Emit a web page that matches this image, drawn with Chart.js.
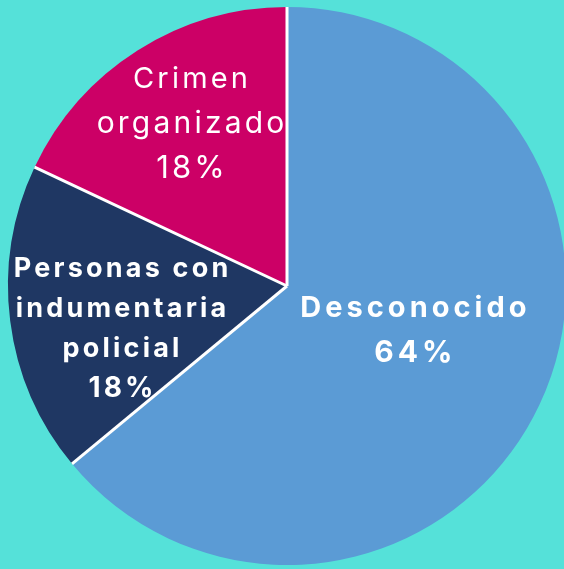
<!DOCTYPE html>
<html>
<head>
<meta charset="utf-8">
<script src="https://cdn.jsdelivr.net/npm/chart.js@4/dist/chart.umd.min.js"></script>
<style>
  html, body { margin: 0; padding: 0; background: #55E1D9; overflow: hidden; width: 564px; height: 569px; }
  canvas { display: block; }
</style>
</head>
<body>
<canvas id="c" width="574" height="569"></canvas>
<script>
// ---- data ----
const categories = ['Desconocido', 'Personas con indumentaria policial', 'Crimen organizado'];
const values = [64, 18, 18];
const labelLines = [
  ['Desconocido'],
  ['Personas con', 'indumentaria', 'policial'],
  ['Crimen', 'organizado']
];
const sliceColors = ['#5B9BD5', '#1F3763', '#CC0066'];

// ---- label styling (placement relative to pie center, in units of radius) ----
const labelStyle = [
  { fx: 0.453, fy: 0.19, weight: '700', sizes: [29, 30], lh: 45, ls: 4 },
  { fx: -0.595, fy: 0.183, weight: '700', sizes: [27, 27, 27, 28], lh: 40, ls: 3.2 },
  { fx: -0.346, fy: -0.547, weight: '400', sizes: [29, 30, 31], lh: 45, ls: 3.2 }
];

const separatorPlugin = {
  id: 'separators',
  afterDatasetsDraw(chart) {
    const ctx = chart.ctx;
    const arcs = chart.getDatasetMeta(0).data;
    ctx.save();
    ctx.strokeStyle = '#ffffff';
    ctx.lineWidth = 3;
    arcs.forEach(a => {
      const p = a.getProps(['x', 'y', 'startAngle', 'outerRadius'], true);
      ctx.beginPath();
      ctx.moveTo(p.x, p.y);
      ctx.lineTo(p.x + Math.cos(p.startAngle) * p.outerRadius, p.y + Math.sin(p.startAngle) * p.outerRadius);
      ctx.stroke();
    });
    ctx.restore();
  }
};

const labelPlugin = {
  id: 'sliceLabels',
  afterDraw(chart) {
    const ctx = chart.ctx;
    const arcs = chart.getDatasetMeta(0).data;
    ctx.save();
    ctx.fillStyle = '#ffffff';
    ctx.textAlign = 'center';
    ctx.textBaseline = 'alphabetic';
    arcs.forEach((a, i) => {
      const p = a.getProps(['x', 'y', 'outerRadius'], true);
      const st = labelStyle[i];
      const lines = labelLines[i].concat([values[i] + '%']);
      const cx = p.x + st.fx * p.outerRadius;
      const cy = p.y + st.fy * p.outerRadius;
      const n = lines.length;
      lines.forEach((t, k) => {
        ctx.font = st.weight + ' ' + st.sizes[k] + 'px Inter';
        ctx.letterSpacing = st.ls + 'px';
        ctx.fillText(t, cx + st.ls / 2, cy + (k - (n - 1) / 2) * st.lh);
      });
    });
    ctx.restore();
  }
};

new Chart(document.getElementById('c'), {
  type: 'pie',
  data: {
    labels: categories,
    datasets: [{
      data: values,
      backgroundColor: sliceColors,
      borderWidth: 0,
      hoverOffset: 0
    }]
  },
  options: {
    responsive: false,
    animation: false,
    layout: { padding: { top: 7, bottom: 4, left: 0, right: 0 } },
    plugins: { legend: { display: false }, tooltip: { enabled: false } }
  },
  plugins: [separatorPlugin, labelPlugin]
});
</script>
</body>
</html>
